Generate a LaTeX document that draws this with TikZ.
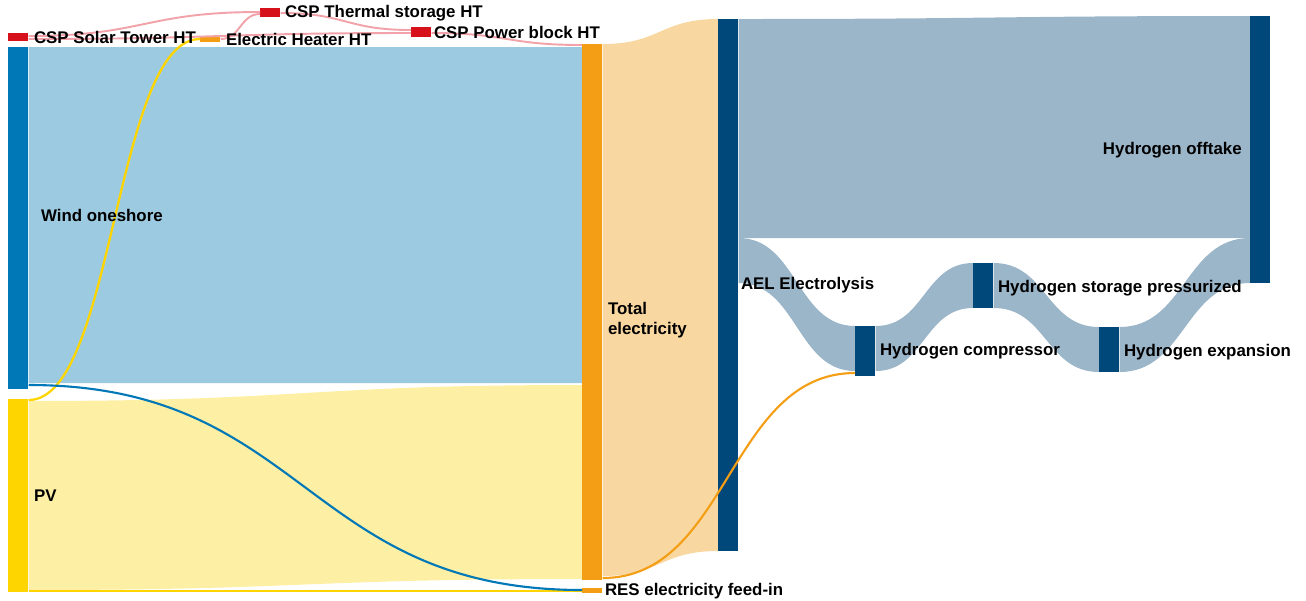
\documentclass[tikz,border=0pt]{standalone}
\usepackage{fontspec}
\setmainfont{Liberation Sans}
\usetikzlibrary{positioning,calc}

\definecolor{windc}{HTML}{0077B6}
\definecolor{windf}{HTML}{9CCAE0}
\definecolor{pvc}{HTML}{FFD500}
\definecolor{pvf}{HTML}{FDEFA3}
\definecolor{elc}{HTML}{F39E14}
\definecolor{elf}{HTML}{F9D7A1}
\definecolor{cspc}{HTML}{D7111B}
\definecolor{cspf}{HTML}{F2A3AA}
\definecolor{hyc}{HTML}{00477A}
\definecolor{hyf}{HTML}{9BB5C9}

\pgfdeclarelayer{bands}
\pgfsetlayers{bands,main}

% band between two bars: colour, source, top, bottom, target, top, bottom
\newcommand{\flowband}[7]{%
  \fill[#1] let \p1=($(#2.north east)+(0,#3)$), \p2=($(#2.north east)+(0,#4)$),
    \p3=($(#5.north west)+(0,#6)$), \p4=($(#5.north west)+(0,#7)$) in
    (\p1) .. controls ({(\x1+\x3)/2},\y1) and ({(\x1+\x3)/2},\y3) .. (\p3)
    -- (\p4) .. controls ({(\x1+\x3)/2},\y4) and ({(\x1+\x3)/2},\y2) .. (\p2) -- cycle;}
% thin flow: style, source, offset, target, offset
\newcommand{\flowline}[5]{%
  \draw[#1] let \p1=($(#2.north east)+(0,#3)$), \p2=($(#4.north west)+(0,#5)$) in
    (\p1) .. controls ({(\x1+\x2)/2},\y1) and ({(\x1+\x2)/2},\y2) .. (\p2);}

\begin{document}
\begin{tikzpicture}[
    x=0.02cm, y=-0.02cm,
    bar/.style={rectangle, inner sep=0pt, minimum width=0.4cm, anchor=north west},
    lbl/.style={font=\fontsize{9.6}{11.5}\selectfont\bfseries, inner sep=0pt, align=left},
    cspline/.style={cspf, line width=1.1pt}
]
    \useasboundingbox (0,0) rectangle (1306,600);

    % CSP chain
    \node[bar, fill=cspc, minimum height=0.16cm] (cspst) at (8,33) {};
    \node[bar, fill=elc, minimum height=0.12cm] (heater) at (200,36) {};
    \node[bar, fill=cspc, minimum height=0.18cm] (cspts) at (260,8) {};
    \node[bar, fill=cspc, minimum height=0.2cm] (csppb) at (411,27) {};

    % Sources
    \node[bar, fill=windc, minimum height=6.84cm] (wind) at (8,47) {};
    \node[bar, fill=pvc, minimum height=3.86cm] (pv) at (8,399) {};

    % Electricity
    \node[bar, fill=elc, minimum height=10.72cm] (total) at (582,44) {};
    \node[bar, fill=elc, minimum height=0.1cm] (feedin) at (582,588) {};

    % Hydrogen
    \node[bar, fill=hyc, minimum height=10.64cm] (ael) at (718,19) {};
    \node[bar, fill=hyc, minimum height=5.34cm] (offtake) at (1250,16) {};
    \node[bar, fill=hyc, minimum height=1.0cm] (comp) at (855,326) {};
    \node[bar, fill=hyc, minimum height=0.9cm] (store) at (973,263) {};
    \node[bar, fill=hyc, minimum height=0.9cm] (expan) at (1099,327) {};

    % Bands
    \begin{pgfonlayer}{bands}
        \flowband{windf}{wind}{0}{336}{total}{3}{339}
        \flowband{pvf}{pv}{2}{191}{total}{341}{535}
        \flowband{elf}{total}{0}{532}{ael}{0}{532}
        \flowband{hyf}{ael}{0}{219}{offtake}{0}{222}
        \flowband{hyf}{ael}{219}{264}{comp}{0}{45}
        \flowband{hyf}{comp}{0}{45}{store}{0}{45}
        \flowband{hyf}{store}{0}{45}{expan}{0}{45}
        \flowband{hyf}{expan}{0}{45}{offtake}{222}{267}
    \end{pgfonlayer}

    % Thin flows
    \flowline{cspline}{cspst}{3}{cspts}{4}
    \flowline{cspline}{cspst}{6}{csppb}{6}
    \flowline{cspline}{heater}{3}{cspts}{6}
    \flowline{cspline}{cspts}{5}{csppb}{3}
    \flowline{cspline}{csppb}{6}{total}{1}
    \flowline{pvc, line width=1.3pt}{pv}{1}{heater}{3}
    \flowline{pvc, line width=1.3pt}{pv}{192}{feedin}{3}
    \flowline{windc, line width=1.2pt}{wind}{338}{feedin}{2}
    \flowline{elc, line width=1.2pt}{total}{534}{comp}{47}

    % Labels
    \node[lbl, anchor=west, right=0.1cm of cspst] {CSP Solar Tower HT};
    \node[lbl, anchor=west, right=0.1cm of heater] {Electric Heater HT};
    \node[lbl, anchor=west, right=0.08cm of cspts] {CSP Thermal storage HT};
    \node[lbl, anchor=west, right=0.04cm of csppb] {CSP Power block HT};
    \node[lbl, right=0.24cm of wind, yshift=0.06cm] {Wind oneshore};
    \node[lbl, right=0.1cm of pv] {PV};
    \node[lbl, right=0.1cm of total, yshift=-0.16cm] {Total\\electricity};
    \node[lbl, right=0.04cm of feedin] {RES electricity feed-in};
    \node[lbl, right=0.04cm of ael] {AEL Electrolysis};
    \node[lbl, left=0.16cm of offtake] {Hydrogen offtake};
    \node[lbl, right=0.08cm of comp] {Hydrogen compressor};
    \node[lbl, right=0.08cm of store, yshift=-0.05cm] {Hydrogen storage pressurized};
    \node[lbl, right=0.08cm of expan, yshift=-0.05cm] {Hydrogen expansion};
\end{tikzpicture}
\end{document}
